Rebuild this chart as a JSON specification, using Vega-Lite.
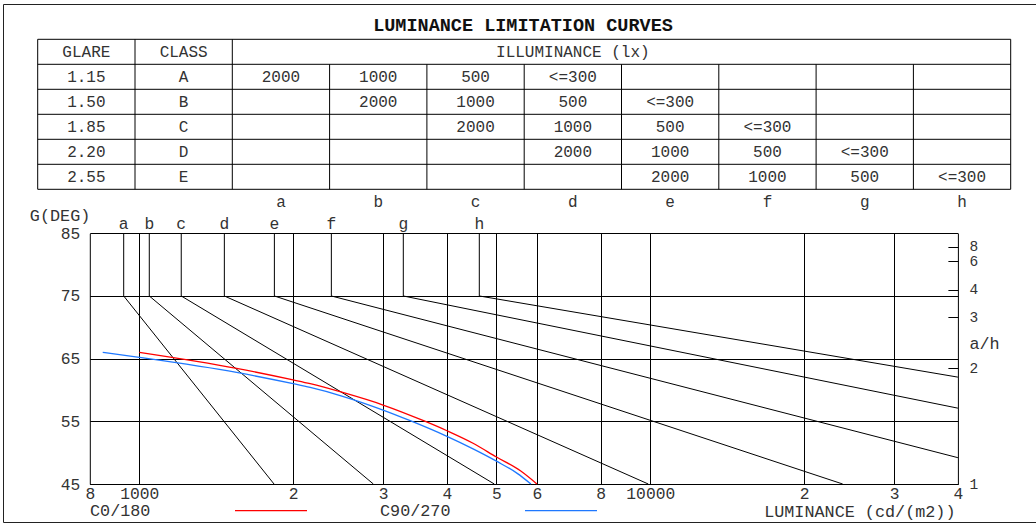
{
  "$schema": "https://vega.github.io/schema/vega-lite/v6.json",
  "width": 1033,
  "height": 518,
  "autosize": {"type": "none"},
  "padding": {"left": 3, "top": 4, "right": 0, "bottom": 2},
  "background": "white",
  "title": {"text": "LUMINANCE LIMITATION CURVES", "anchor": "middle", "frame": "group", "offset": -21, "baseline": "middle", "dx": 3.5, "dy": 18.5, "font": "Liberation Mono", "fontSize": 18.5, "fontWeight": "bold", "color": "#111"},
  "config": {
    "font": "Liberation Mono",
    "view": {"stroke": "#222", "strokeWidth": 1},
    "axis": {"labelFont": "Liberation Mono", "titleFont": "Liberation Mono", "labelColor": "#333", "titleColor": "#333", "titleFontWeight": "normal", "labelFontSize": 16.3, "titleFontSize": 16.8, "domainColor": "black", "domainWidth": 1, "gridColor": "black", "gridOpacity": 1, "gridWidth": 1, "tickColor": "black", "labelOverlap": false, "labelFlush": false}
  },
  "datasets": {
    "guides": [
      {"curve": "a", "L75": 932, "degTop": 85, "degKnee": 75, "Lend": 1835, "degEnd": 45},
      {"curve": "b", "L75": 1046, "degTop": 85, "degKnee": 75, "Lend": 2871, "degEnd": 45},
      {"curve": "c", "L75": 1208, "degTop": 85, "degKnee": 75, "Lend": 4951, "degEnd": 45},
      {"curve": "d", "L75": 1467, "degTop": 85, "degKnee": 75, "Lend": 9910, "degEnd": 45},
      {"curve": "e", "L75": 1838, "degTop": 85, "degKnee": 75, "Lend": 23800, "degEnd": 45},
      {"curve": "f", "L75": 2376, "degTop": 85, "degKnee": 75, "Lend": 40000, "degEnd": 49.2},
      {"curve": "g", "L75": 3286, "degTop": 85, "degKnee": 75, "Lend": 40000, "degEnd": 57.1},
      {"curve": "h", "L75": 4628, "degTop": 85, "degKnee": 75, "Lend": 40000, "degEnd": 62.05}
    ],
    "curves": [
      {"series": "C0/180", "L": 1000, "deg": 66.0},
      {"series": "C0/180", "L": 1550, "deg": 63.45},
      {"series": "C0/180", "L": 2000, "deg": 61.6},
      {"series": "C0/180", "L": 2160, "deg": 61.0},
      {"series": "C0/180", "L": 2500, "deg": 59.6},
      {"series": "C0/180", "L": 3000, "deg": 57.6},
      {"series": "C0/180", "L": 3600, "deg": 55.1},
      {"series": "C0/180", "L": 4000, "deg": 53.5},
      {"series": "C0/180", "L": 4500, "deg": 51.5},
      {"series": "C0/180", "L": 5000, "deg": 49.3},
      {"series": "C0/180", "L": 5570, "deg": 47.1},
      {"series": "C0/180", "L": 6000, "deg": 45.0},
      {"series": "C90/270", "L": 848, "deg": 66.0},
      {"series": "C90/270", "L": 1000, "deg": 65.2},
      {"series": "C90/270", "L": 1550, "deg": 62.8},
      {"series": "C90/270", "L": 2000, "deg": 61.0},
      {"series": "C90/270", "L": 2160, "deg": 60.4},
      {"series": "C90/270", "L": 2500, "deg": 59.0},
      {"series": "C90/270", "L": 3000, "deg": 56.8},
      {"series": "C90/270", "L": 3390, "deg": 55.1},
      {"series": "C90/270", "L": 4000, "deg": 52.6},
      {"series": "C90/270", "L": 4500, "deg": 50.6},
      {"series": "C90/270", "L": 5010, "deg": 48.6},
      {"series": "C90/270", "L": 5490, "deg": 46.7},
      {"series": "C90/270", "L": 5840, "deg": 45.0}
    ],
    "ahRatio": [
      {"ah": 1, "gamma": 45},
      {"ah": 2, "gamma": 63.43},
      {"ah": 3, "gamma": 71.57},
      {"ah": 4, "gamma": 75.96},
      {"ah": 6, "gamma": 80.54},
      {"ah": 8, "gamma": 82.87}
    ],
    "hlines": [
      {"row": 0, "c0": 0, "c1": 10}, {"row": 1, "c0": 0, "c1": 10}, {"row": 2, "c0": 0, "c1": 10}, {"row": 3, "c0": 0, "c1": 10},
      {"row": 4, "c0": 0, "c1": 10}, {"row": 5, "c0": 0, "c1": 10}, {"row": 6, "c0": 0, "c1": 10}
    ],
    "vlines": [
      {"col": 0, "top": 0, "bottom": 6}, {"col": 1, "top": 0, "bottom": 6}, {"col": 2, "top": 0, "bottom": 6},
      {"col": 3, "top": 1, "bottom": 6}, {"col": 4, "top": 1, "bottom": 6}, {"col": 5, "top": 1, "bottom": 6}, {"col": 6, "top": 1, "bottom": 6},
      {"col": 7, "top": 1, "bottom": 6}, {"col": 8, "top": 1, "bottom": 6}, {"col": 9, "top": 1, "bottom": 6}, {"col": 10, "top": 0, "bottom": 6}
    ],
    "cells": [
      {"row": 0, "col": 0, "text": "GLARE"}, {"row": 0, "col": 1, "text": "CLASS"}, {"row": 0, "col": 5, "text": "ILLUMINANCE (lx)"},
      {"row": 1, "col": 0, "text": "1.15"}, {"row": 1, "col": 1, "text": "A"}, {"row": 1, "col": 2, "text": "2000"}, {"row": 1, "col": 3, "text": "1000"}, {"row": 1, "col": 4, "text": "500"}, {"row": 1, "col": 5, "text": "<=300"},
      {"row": 2, "col": 0, "text": "1.50"}, {"row": 2, "col": 1, "text": "B"}, {"row": 2, "col": 3, "text": "2000"}, {"row": 2, "col": 4, "text": "1000"}, {"row": 2, "col": 5, "text": "500"}, {"row": 2, "col": 6, "text": "<=300"},
      {"row": 3, "col": 0, "text": "1.85"}, {"row": 3, "col": 1, "text": "C"}, {"row": 3, "col": 4, "text": "2000"}, {"row": 3, "col": 5, "text": "1000"}, {"row": 3, "col": 6, "text": "500"}, {"row": 3, "col": 7, "text": "<=300"},
      {"row": 4, "col": 0, "text": "2.20"}, {"row": 4, "col": 1, "text": "D"}, {"row": 4, "col": 5, "text": "2000"}, {"row": 4, "col": 6, "text": "1000"}, {"row": 4, "col": 7, "text": "500"}, {"row": 4, "col": 8, "text": "<=300"},
      {"row": 5, "col": 0, "text": "2.55"}, {"row": 5, "col": 1, "text": "E"}, {"row": 5, "col": 6, "text": "2000"}, {"row": 5, "col": 7, "text": "1000"}, {"row": 5, "col": 8, "text": "500"}, {"row": 5, "col": 9, "text": "<=300"},
      {"row": 6, "col": 2, "text": "a"}, {"row": 6, "col": 3, "text": "b"}, {"row": 6, "col": 4, "text": "c"}, {"row": 6, "col": 5, "text": "d"},
      {"row": 6, "col": 6, "text": "e"}, {"row": 6, "col": 7, "text": "f"}, {"row": 6, "col": 8, "text": "g"}, {"row": 6, "col": 9, "text": "h"}
    ]
  },
  "layer": [
    {
      "layer": [
        {
          "data": {"name": "guides"},
          "mark": {"type": "rule", "color": "black", "strokeWidth": 1},
          "encoding": {
            "x": {"field": "L75", "type": "quantitative",
              "scale": {"type": "log", "domain": [800, 40000], "range": [86.8, 954.9], "nice": false},
              "axis": {"orient": "bottom", "offset": -38, "values": [800, 1000, 2000, 3000, 4000, 5000, 6000, 8000, 10000, 20000, 30000, 40000],
                "labelExpr": "datum.value == 1000 ? '1000' : datum.value == 10000 ? '10000' : datum.value < 1000 ? format(datum.value / 100, 'd') : datum.value < 10000 ? format(datum.value / 1000, 'd') : format(datum.value / 10000, 'd')",
                "grid": false, "ticks": false, "domain": true, "labelPadding": 1,
                "title": "LUMINANCE (cd/(m2))", "titleX": 952, "titleY": 27, "titleAlign": "right", "titleBaseline": "middle"}},
            "y": {"field": "degTop", "type": "quantitative",
              "scale": {"domain": [45, 85], "range": [480, 229.3], "nice": false, "zero": false},
              "axis": {"orient": "left", "offset": -86.8, "values": [45, 55, 65, 75, 85], "grid": true, "ticks": false, "domain": true, "labelPadding": 10,
                "title": "G(DEG)", "titleAngle": 0, "titleX": 0, "titleY": 211, "titleAlign": "right", "titleBaseline": "middle"}},
            "y2": {"field": "degKnee"}
          }
        },
        {
          "data": {"name": "guides"},
          "mark": {"type": "rule", "color": "black", "strokeWidth": 1},
          "encoding": {
            "x": {"field": "L75", "type": "quantitative"},
            "x2": {"field": "Lend"},
            "y": {"field": "degKnee", "type": "quantitative"},
            "y2": {"field": "degEnd"}
          }
        },
        {
          "data": {"name": "curves"},
          "mark": {"type": "line", "interpolate": "monotone", "strokeWidth": 1.3},
          "encoding": {
            "x": {"field": "L", "type": "quantitative"},
            "y": {"field": "deg", "type": "quantitative"},
            "color": {"field": "series", "type": "nominal",
              "scale": {"domain": ["C0/180", "C90/270"], "range": ["#ff0000", "#1f78ff"]},
              "legend": {"orient": "none", "legendX": 231, "legendY": 469.5, "direction": "horizontal", "title": null,
                "symbolType": "stroke", "symbolSize": 5184, "symbolStrokeWidth": 1.3, "labelOffset": -218, "columnPadding": 70,
                "labelFontSize": 16.8, "labelColor": "#333", "labelFont": "Liberation Mono", "padding": 0, "labelLimit": 300}}
          }
        },
        {
          "data": {"name": "guides"},
          "mark": {"type": "text", "dy": -9, "fontSize": 16.3, "color": "#333", "baseline": "middle", "align": "center"},
          "encoding": {
            "x": {"field": "L75", "type": "quantitative"},
            "y": {"field": "degTop", "type": "quantitative"},
            "text": {"field": "curve"}
          }
        }
      ]
    },
    {
      "data": {"name": "guides"},
      "mark": {"type": "point", "opacity": 0},
      "encoding": {
        "x": {"field": "L75", "type": "quantitative",
          "scale": {"type": "log", "domain": [800, 40000], "range": [86.8, 954.9], "nice": false},
          "axis": {"orient": "top", "offset": 0, "values": [1000, 2000, 3000, 4000, 5000, 6000, 8000, 10000, 20000, 30000],
            "grid": true, "labels": false, "ticks": false, "domain": false, "title": null}},
        "y": {"field": "degTop", "type": "quantitative",
          "scale": {"domain": [45, 85], "range": [480, 229.3], "nice": false, "zero": false}, "axis": null}
      }
    },
    {
      "data": {"name": "ahRatio"},
      "mark": {"type": "point", "opacity": 0},
      "encoding": {
        "x": {"field": "ah", "type": "quantitative", "axis": null},
        "y": {"field": "gamma", "type": "quantitative",
          "scale": {"domain": [45, 85], "range": [480, 229.3], "nice": false, "zero": false},
          "axis": {"orient": "right", "offset": -78.1, "values": [45, 63.43, 71.57, 75.96, 80.54, 82.87],
            "labelExpr": "datum.value < 50 ? '1' : datum.value < 65 ? '2' : datum.value < 73 ? '3' : datum.value < 78 ? '4' : datum.value < 81.5 ? '6' : '8'",
            "grid": false, "ticks": true, "tickSize": -10, "domain": true, "labelPadding": 21, "labelFontSize": 14.5,
            "title": "a/h", "titleAngle": 0, "titleX": 11, "titleY": 339, "titleAlign": "left", "titleBaseline": "middle"}}
      }
    },
    {
      "layer": [
        {
          "data": {"name": "hlines"},
          "mark": {"type": "rule", "color": "black", "strokeWidth": 1},
          "encoding": {
            "y": {"field": "row", "type": "quantitative", "scale": {"domain": [0, 7], "range": [35.3, 210.3], "nice": false, "zero": false}, "axis": null},
            "x": {"field": "c0", "type": "quantitative", "scale": {"domain": [0, 10], "range": [34.7, 1007.7], "nice": false, "zero": false}, "axis": null},
            "x2": {"field": "c1"}
          }
        },
        {
          "data": {"name": "vlines"},
          "mark": {"type": "rule", "color": "black", "strokeWidth": 1},
          "encoding": {
            "x": {"field": "col", "type": "quantitative"},
            "y": {"field": "top", "type": "quantitative"},
            "y2": {"field": "bottom"}
          }
        }
      ]
    },
    {
      "data": {"name": "cells"},
      "mark": {"type": "text", "fontSize": 16, "color": "#333", "baseline": "middle", "align": "center"},
      "encoding": {
        "x": {"field": "col", "type": "ordinal", "scale": {"type": "band", "domain": [0, 1, 2, 3, 4, 5, 6, 7, 8, 9], "range": [34.7, 1007.7], "paddingInner": 0, "paddingOuter": 0}, "axis": null},
        "y": {"field": "row", "type": "ordinal", "scale": {"type": "band", "domain": [0, 1, 2, 3, 4, 5, 6], "range": [35.3, 210.3], "paddingInner": 0, "paddingOuter": 0}, "axis": null},
        "text": {"field": "text"}
      }
    }
  ],
  "resolve": {"scale": {"x": "independent", "y": "independent"}, "axis": {"x": "independent", "y": "independent"}}
}
